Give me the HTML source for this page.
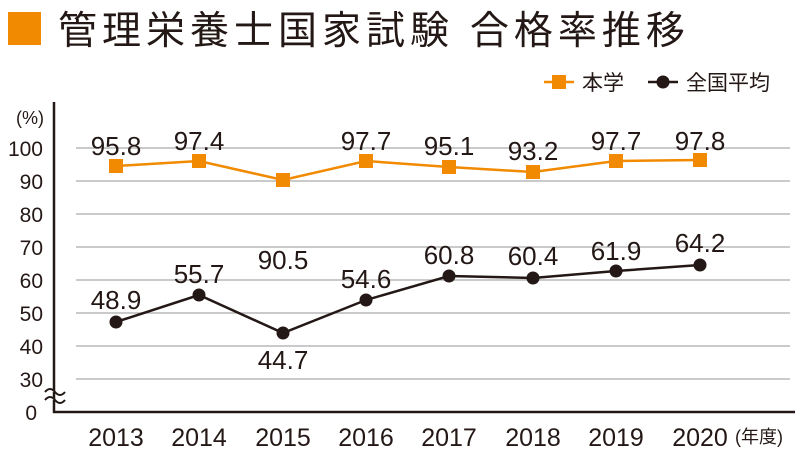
<!DOCTYPE html>
<html><head><meta charset="utf-8"><style>
body{margin:0;background:#fff}
svg{display:block;font-family:"Liberation Sans","Noto Sans CJK JP",sans-serif}
</style></head><body>
<svg width="800" height="450" viewBox="0 0 800 450" xmlns="http://www.w3.org/2000/svg">
<rect x="8" y="12" width="33" height="33" fill="#f18a00"/>
<text x="58" y="44" font-size="39" fill="#231815" letter-spacing="5">管理栄養士国家試験 合格率推移</text>
<line x1="544" y1="82" x2="574" y2="82" stroke="#f18a00" stroke-width="2.5"/>
<rect x="552" y="75" width="14" height="14" fill="#f18a00"/>
<text x="582" y="90" font-size="21" fill="#231815">本学</text>
<line x1="648" y1="82" x2="678" y2="82" stroke="#231815" stroke-width="2.5"/>
<circle cx="663" cy="82" r="6.5" fill="#231815"/>
<text x="686" y="90" font-size="21" fill="#231815">全国平均</text>
<g stroke="#aaa" stroke-width="1.2">
<line x1="76" y1="148" x2="790" y2="148"/><line x1="76" y1="181" x2="790" y2="181"/>
<line x1="76" y1="214" x2="790" y2="214"/><line x1="76" y1="247" x2="790" y2="247"/>
<line x1="76" y1="280" x2="790" y2="280"/><line x1="76" y1="313" x2="790" y2="313"/>
<line x1="76" y1="346" x2="790" y2="346"/><line x1="76" y1="379" x2="790" y2="379"/>
</g>
<polyline points="54,102 54,412 795,412" fill="none" stroke="#231815" stroke-width="2.5"/>
<path d="M45,392 q5,-6 10,0 t10,0 M45,400 q5,-6 10,0 t10,0" stroke="#231815" stroke-width="2" fill="#fff"/>
<g font-size="21" fill="#231815" text-anchor="end">
<text x="44" y="124" font-size="18">(%)</text>
<text x="43" y="156">100</text><text x="43" y="189">90</text><text x="43" y="222">80</text>
<text x="43" y="255">70</text><text x="43" y="288">60</text><text x="43" y="321">50</text>
<text x="43" y="354">40</text><text x="43" y="387">30</text><text x="37" y="420">0</text>
</g>
<g font-size="25" fill="#231815" text-anchor="middle">
<text x="116" y="446">2013</text><text x="199" y="446">2014</text><text x="283" y="446">2015</text>
<text x="366" y="446">2016</text><text x="449" y="446">2017</text><text x="533" y="446">2018</text>
<text x="616" y="446">2019</text><text x="700" y="446">2020</text>
</g>
<text x="735" y="443" font-size="18" fill="#231815">(年度)</text>
<polyline points="116,166 199,161 283,180 366,161 449,167 533,172 616,161 700,160" fill="none" stroke="#f18a00" stroke-width="2.5"/>
<g fill="#f18a00">
<rect x="109" y="159" width="14" height="14"/><rect x="192" y="154" width="14" height="14"/>
<rect x="276" y="173" width="14" height="14"/><rect x="359" y="154" width="14" height="14"/>
<rect x="442" y="160" width="14" height="14"/><rect x="526" y="165" width="14" height="14"/>
<rect x="609" y="154" width="14" height="14"/><rect x="693" y="153" width="14" height="14"/>
</g>
<polyline points="116,322 199,295 283,333 366,300 449,276 533,278 616,271 700,265" fill="none" stroke="#231815" stroke-width="2.5"/>
<g fill="#231815">
<circle cx="116" cy="322" r="6.5"/><circle cx="199" cy="295" r="6.5"/><circle cx="283" cy="333" r="6.5"/>
<circle cx="366" cy="300" r="6.5"/><circle cx="449" cy="276" r="6.5"/><circle cx="533" cy="278" r="6.5"/>
<circle cx="616" cy="271" r="6.5"/><circle cx="700" cy="265" r="6.5"/>
</g>
<g font-size="26" fill="#231815" text-anchor="middle">
<text x="116" y="155">95.8</text><text x="199" y="150">97.4</text><text x="283" y="269">90.5</text>
<text x="366" y="150">97.7</text><text x="449" y="155">95.1</text><text x="533" y="160">93.2</text>
<text x="616" y="150">97.7</text><text x="700" y="150">97.8</text>
<text x="116" y="309">48.9</text><text x="199" y="283">55.7</text><text x="283" y="369">44.7</text>
<text x="366" y="288">54.6</text><text x="449" y="264">60.8</text><text x="533" y="265">60.4</text>
<text x="616" y="260">61.9</text><text x="700" y="252">64.2</text>
</g>
</svg>
</body></html>
